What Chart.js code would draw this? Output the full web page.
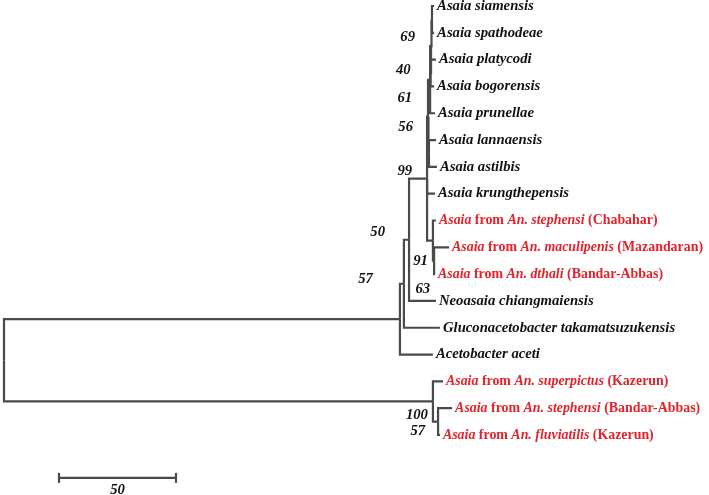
<!DOCTYPE html>
<html><head><meta charset="utf-8">
<script src="https://cdn.jsdelivr.net/npm/chart.js@4/dist/chart.umd.min.js"></script>
<style>html,body{margin:0;padding:0;background:#fff}#wrap{width:709px;height:495px;position:relative}</style>
</head><body><div id="wrap"><canvas id="c"></canvas></div>
<script>
// ---------- DATA ----------
// Leaves, top to bottom. Text between * * is italic.
const leafNames = [
  "*Asaia siamensis*",
  "*Asaia spathodeae*",
  "*Asaia platycodi*",
  "*Asaia bogorensis*",
  "*Asaia prunellae*",
  "*Asaia lannaensis*",
  "*Asaia astilbis*",
  "*Asaia krungthepensis*",
  "*Asaia* from *An. stephensi* (Chabahar)",
  "*Asaia* from *An. maculipenis* (Mazandaran)",
  "*Asaia* from *An. dthali* (Bandar-Abbas)",
  "*Neoasaia chiangmaiensis*",
  "*Gluconacetobacter takamatsuzukensis*",
  "*Acetobacter aceti*",
  "*Asaia* from *An. superpictus* (Kazerun)",
  "*Asaia* from *An. stephensi* (Bandar-Abbas)",
  "*Asaia* from *An. fluviatilis* (Kazerun)"
];
const leafIsolate = [false,false,false,false,false,false,false,false,true,true,true,false,false,false,true,true,true];
const leafParent = ["nA","nA","n40","n40","n61","n56","n56","N99","N91","N63","N63","N50","N57","IN","OG","N57b","N57b"];
// distance from root (tree units, scale bar = 50)
const leafDepth = [183.8,183.8,184.6,183.8,184.2,184.6,185.0,184.2,184.6,190.2,184.2,184.6,186.3,183.3,187.6,191.5,186.3];

const nodeIds    = ["root","IN","N57","N50","N99","Top","n61","n69","nA","n40","n56","N91","N63","OG","N57b"];
const nodeParent = [null,"root","IN","N57","N50","N99","Top","n61","n69","n69","Top","N99","N91","root","OG"];
const nodeDepth  = [0,169.2,170.9,173.1,180.8,181.2,182.1,182.5,182.9,182.3,181.6,183.3,183.8,183.3,185.5];

const bootstrapNodes  = ["n69","n40","n61","Top","N99","N50","N57","N91","N63","OG","N57b"];
const bootstrapValues = [69,40,61,56,99,50,57,91,63,100,57];

const scaleBarLength = 50;
const scaleBarLabel = "50";

// ---------- LAYOUT / STYLE ----------
const bootstrapOffsets = [[-16,-9],[-20,-3],[-18,18],[-15,11],[-15,-7],[-24,-8],[-31,-5],[-5,21],[-4,29],[-5,14],[-13,10]];
const scaleBarPos = {x: 23.5, y: 17.6};
const LINE = '#4a4a4a', LW = 2.2;
const RED = '#e3232b', BLACK = '#111';
const FONT = "'Liberation Serif', 'Times New Roman', serif";
const FS = 14.7, FS_RED = 13.9;

// ---------- BUILD TREE ----------
const nodes = {};
nodeIds.forEach((id,i)=>{ nodes[id] = {id, parent: nodeParent[i], x: nodeDepth[i], children: []}; });
const leaves = leafNames.map((n,i)=>({id:'L'+i, leaf:true, x: leafDepth[i], y: i, parent: leafParent[i], name:n, red: leafIsolate[i]}));
nodeIds.forEach(id=>{ const p = nodes[id].parent; if (p) nodes[p].children.push(nodes[id]); });
leaves.forEach(l=>nodes[l.parent].children.push(l));
function yOf(n){ if (n.leaf) return n.y; const ys = n.children.map(yOf); n.y = (Math.min(...ys)+Math.max(...ys))/2; return n.y; }
yOf(nodes.root);

const datasets = [];
function addEdge(child){
  const p = nodes[child.parent];
  datasets.push({data:[{x:p.x,y:p.y},{x:p.x,y:child.y},{x:child.x,y:child.y}],
    showLine:true, borderColor:LINE, borderWidth:LW, pointRadius:0, borderJoinStyle:'miter', tension:0, fill:false});
}
nodeIds.forEach(id=>{ if (nodes[id].parent) addEdge(nodes[id]); });
leaves.forEach(addEdge);
// scale bar
datasets.push({data:[{x:scaleBarPos.x,y:scaleBarPos.y},{x:scaleBarPos.x+scaleBarLength,y:scaleBarPos.y}],
  showLine:true, borderColor:LINE, borderWidth:LW, pointStyle:'line', rotation:90, pointRadius:5,
  pointBorderColor:LINE, pointBorderWidth:2.2, pointBackgroundColor:LINE, fill:false});

function parseRich(s){
  const parts = []; const re = /\*([^*]+)\*|([^*]+)/g; let m;
  while ((m = re.exec(s))) parts.push(m[1] ? {t:m[1], it:true} : {t:m[2], it:false});
  return parts;
}

const textPlugin = {
  id:'treeText',
  afterDatasetsDraw(chart){
    const {ctx, scales:{x:xs, y:ys}} = chart;
    ctx.save();
    ctx.textBaseline = 'middle';
    leaves.forEach(l=>{
      let px = xs.getPixelForValue(l.x) + 3;
      const py = ys.getPixelForValue(l.y);
      const fs = l.red ? FS_RED : FS;
      ctx.fillStyle = l.red ? RED : BLACK;
      ctx.textAlign = 'left';
      parseRich(l.name).forEach(p=>{
        ctx.font = (p.it ? 'italic ' : '') + 'bold ' + fs + 'px ' + FONT;
        ctx.fillText(p.t, px, py);
        px += ctx.measureText(p.t).width;
      });
    });
    ctx.fillStyle = BLACK;
    ctx.textAlign = 'right';
    ctx.font = 'italic bold ' + FS + 'px ' + FONT;
    bootstrapNodes.forEach((id,i)=>{
      const n = nodes[id];
      const px = xs.getPixelForValue(n.x) + bootstrapOffsets[i][0];
      const py = ys.getPixelForValue(n.y) + bootstrapOffsets[i][1];
      ctx.fillText(String(bootstrapValues[i]), px, py);
    });
    ctx.textAlign = 'center';
    ctx.fillText(scaleBarLabel, xs.getPixelForValue(scaleBarPos.x + scaleBarLength/2), ys.getPixelForValue(scaleBarPos.y) + 12);
    ctx.restore();
  }
};

new Chart(document.getElementById('c'), {
  type:'scatter',
  data:{datasets},
  options:{
    responsive:true, maintainAspectRatio:false, animation:false,
    layout:{padding:0, autoPadding:false},
    plugins:{legend:{display:false}, tooltip:{enabled:false}},
    scales:{
      x:{type:'linear', display:false, min:-1.709, max:301.28},
      y:{type:'linear', display:false, reverse:true, min:-0.2238, max:18.239}
    }
  },
  plugins:[textPlugin]
});
</script></body></html>
